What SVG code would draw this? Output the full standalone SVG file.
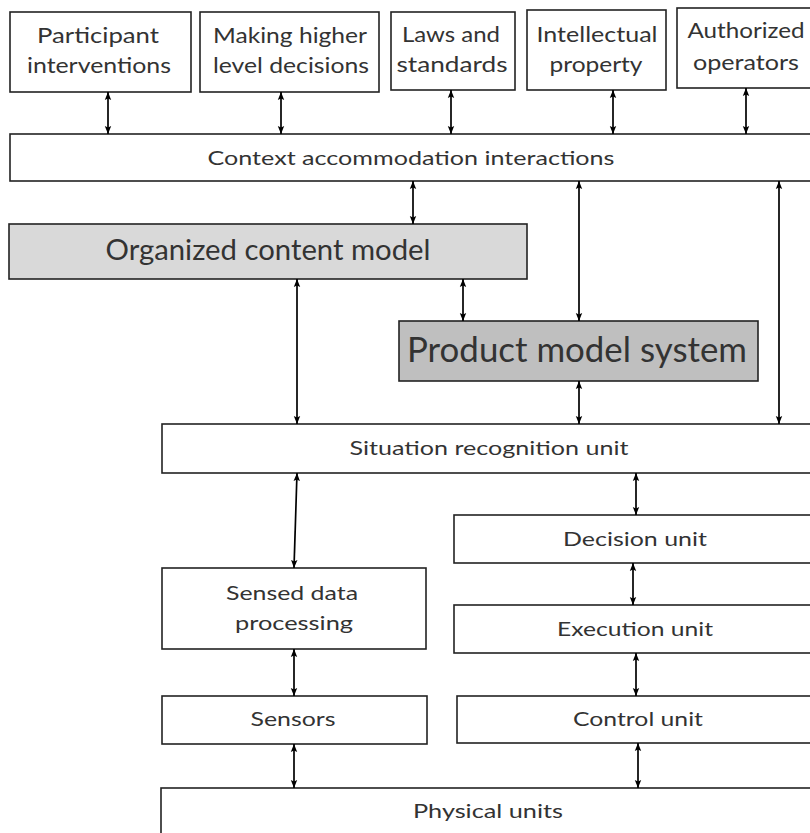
<svg xmlns="http://www.w3.org/2000/svg" width="810" height="833" viewBox="0 0 810 833">
<defs>
<marker id="ah" markerUnits="userSpaceOnUse" markerWidth="8" markerHeight="11" refX="10" refY="4" orient="auto-start-reverse" viewBox="0 0 10 8">
<path d="M0,0 L10,4 L0,8 L2,4 z" fill="#000"/>
</marker>
</defs>
<style>
.b{fill:#fff;stroke:#222;stroke-width:1.6}
.t{font-family:Lato,"Liberation Sans",sans-serif;fill:#333;text-anchor:middle;font-size:21px}
.s{font-size:20px}
.c line{stroke:#000;stroke-width:1.7;marker-start:url(#ah);marker-end:url(#ah)}
</style>
<rect width="810" height="833" fill="#fff"/>
<g id="participant"><rect class="b" x="10" y="12" width="181" height="80"/><text class="t" x="98" y="43" textLength="122" lengthAdjust="spacingAndGlyphs">Participant</text><text class="t" x="99" y="73" textLength="144" lengthAdjust="spacingAndGlyphs">interventions</text></g>
<g id="higher"><rect class="b" x="200" y="12" width="179" height="80"/><text class="t" x="290" y="43" textLength="154" lengthAdjust="spacingAndGlyphs">Making higher</text><text class="t" x="291" y="73" textLength="156" lengthAdjust="spacingAndGlyphs">level decisions</text></g>
<g id="laws"><rect class="b" x="391" y="12" width="124" height="78"/><text class="t" x="451" y="42" textLength="98" lengthAdjust="spacingAndGlyphs">Laws and</text><text class="t" x="452" y="72" textLength="111" lengthAdjust="spacingAndGlyphs">standards</text></g>
<g id="ip"><rect class="b" x="527" y="10" width="139" height="80"/><text class="t" x="597" y="42" textLength="121" lengthAdjust="spacingAndGlyphs">Intellectual</text><text class="t" x="596" y="72" textLength="93" lengthAdjust="spacingAndGlyphs">property</text></g>
<g id="operators"><rect class="b" x="677" y="8" width="140" height="80"/><text class="t" x="746" y="38" textLength="117" lengthAdjust="spacingAndGlyphs">Authorized</text><text class="t" x="746" y="70" textLength="106" lengthAdjust="spacingAndGlyphs">operators</text></g>
<g id="context"><rect class="b" x="10" y="134" width="810" height="47"/><text class="t s" x="411" y="165" textLength="407" lengthAdjust="spacingAndGlyphs">Context  accommodation interactions</text></g>
<g id="ocm"><rect x="9" y="224" width="518" height="55" fill="#d9d9d9" stroke="#222" stroke-width="1.6"/><text class="t" x="268" y="260" style="font-size:29px" textLength="325" lengthAdjust="spacingAndGlyphs">Organized content  model</text></g>
<g id="pms"><rect x="399" y="321" width="359" height="60" fill="#bfbfbf" stroke="#222" stroke-width="1.6"/><text class="t" x="577" y="362" style="font-size:35px" textLength="340" lengthAdjust="spacingAndGlyphs">Product model system</text></g>
<g id="situation"><rect class="b" x="162" y="424" width="660" height="49"/><text class="t s" x="489" y="455" textLength="279" lengthAdjust="spacingAndGlyphs">Situation recognition unit</text></g>
<g id="sensed"><rect class="b" x="162" y="568" width="264" height="81"/><text class="t s" x="292" y="600" textLength="132" lengthAdjust="spacingAndGlyphs">Sensed  data</text><text class="t s" x="294" y="630" textLength="118" lengthAdjust="spacingAndGlyphs">processing</text></g>
<g id="sensors"><rect class="b" x="162" y="696" width="265" height="48"/><text class="t s" x="293" y="726" textLength="85" lengthAdjust="spacingAndGlyphs">Sensors</text></g>
<g id="decision"><rect class="b" x="454" y="515" width="366" height="48"/><text class="t s" x="635" y="546" textLength="144" lengthAdjust="spacingAndGlyphs">Decision unit</text></g>
<g id="execution"><rect class="b" x="454" y="605" width="366" height="48"/><text class="t s" x="635" y="636" textLength="156" lengthAdjust="spacingAndGlyphs">Execution unit</text></g>
<g id="control"><rect class="b" x="457" y="696" width="363" height="47"/><text class="t s" x="638" y="726" textLength="130" lengthAdjust="spacingAndGlyphs">Control unit</text></g>
<g id="physical"><rect class="b" x="161" y="788" width="660" height="60"/><text class="t s" x="488" y="818" textLength="150" lengthAdjust="spacingAndGlyphs">Physical units</text></g>
<g id="connectors" class="c">
<line x1="108" y1="92" x2="108" y2="134"/>
<line x1="281" y1="92" x2="281" y2="134"/>
<line x1="451" y1="90" x2="451" y2="134"/>
<line x1="613" y1="90" x2="613" y2="134"/>
<line x1="746" y1="88" x2="746" y2="134"/>
<line x1="413" y1="181" x2="413" y2="224"/>
<line x1="579" y1="181" x2="579" y2="321"/>
<line x1="779" y1="181" x2="779" y2="424"/>
<line x1="297" y1="279" x2="297" y2="424"/>
<line x1="463" y1="279" x2="463" y2="321"/>
<line x1="579" y1="381" x2="579" y2="424"/>
<line x1="297" y1="473" x2="294" y2="568"/>
<line x1="294" y1="649" x2="294" y2="696"/>
<line x1="294" y1="744" x2="294" y2="788"/>
<line x1="636" y1="473" x2="636" y2="515"/>
<line x1="633" y1="563" x2="633" y2="605"/>
<line x1="636" y1="653" x2="636" y2="696"/>
<line x1="638" y1="743" x2="638" y2="788"/>
</g>
</svg>
